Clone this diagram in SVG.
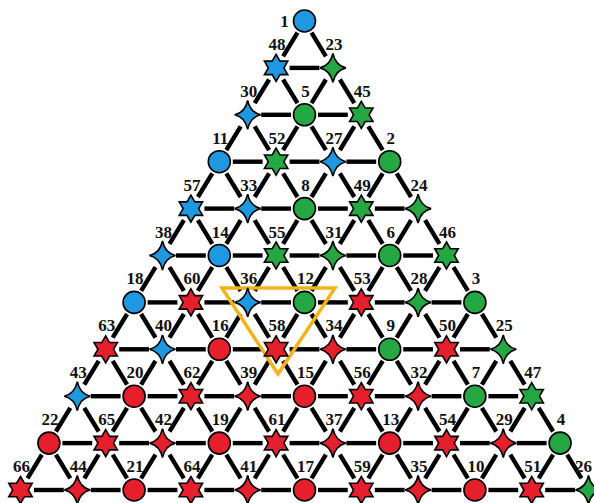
<svg xmlns="http://www.w3.org/2000/svg" xmlns:xlink="http://www.w3.org/1999/xlink" width="594" height="503" viewBox="0 0 594 503">
<style>
.edge{stroke:#000;stroke-width:4.4;stroke-linecap:butt}
.b{fill:#1E98E0;stroke:#000;stroke-width:1.6}
.g{fill:#25A843;stroke:#000;stroke-width:1.6}
.r{fill:#E51F2B;stroke:#000;stroke-width:1.6}
text{font-family:"Liberation Serif","Times New Roman",serif;font-weight:bold;font-size:17px;fill:#111;text-anchor:middle}
</style>
<defs>
<line id="h" class="edge" x1="13.5" y1="0" x2="43.3" y2="0"/>
<line id="dl" class="edge" x1="-7" y1="11.6" x2="-21.4" y2="35.3"/>
<line id="dr" class="edge" x1="7" y1="11.6" x2="21.4" y2="35.3"/>
<circle id="c" r="11"/>
<path id="x" d="M0,-13.5 L3.9,-6.75 L11.69,-6.75 L7.8,0 L11.69,6.75 L3.9,6.75 L0,13.5 L-3.9,6.75 L-11.69,6.75 L-7.8,0 L-11.69,-6.75 L-3.9,-6.75 Z"/>
<path id="s" d="M0,-14.5 Q2.5,-2.5 13,0 Q2.5,2.5 0,14.5 Q-2.5,2.5 -13,0 Q-2.5,-2.5 0,-14.5 Z"/>
</defs>
<rect width="594" height="503" fill="#fff"/>
<g id="connectors">
<g transform="translate(0,21)"><use href="#dl" x="304.5"/><use href="#dr" x="304.5"/></g>
<g transform="translate(0,67.9)"><use href="#h" x="276.1"/><use href="#dl" x="276.1"/><use href="#dr" x="276.1"/><use href="#dl" x="332.9"/><use href="#dr" x="332.9"/></g>
<g transform="translate(0,114.8)"><use href="#h" x="247.7"/><use href="#h" x="304.5"/><use href="#dl" x="247.7"/><use href="#dr" x="247.7"/><use href="#dl" x="304.5"/><use href="#dr" x="304.5"/><use href="#dl" x="361.3"/><use href="#dr" x="361.3"/></g>
<g transform="translate(0,161.7)"><use href="#h" x="219.3"/><use href="#h" x="276.1"/><use href="#h" x="332.9"/><use href="#dl" x="219.3"/><use href="#dr" x="219.3"/><use href="#dl" x="276.1"/><use href="#dr" x="276.1"/><use href="#dl" x="332.9"/><use href="#dr" x="332.9"/><use href="#dl" x="389.7"/><use href="#dr" x="389.7"/></g>
<g transform="translate(0,208.6)"><use href="#h" x="190.9"/><use href="#h" x="247.7"/><use href="#h" x="304.5"/><use href="#h" x="361.3"/><use href="#dl" x="190.9"/><use href="#dr" x="190.9"/><use href="#dl" x="247.7"/><use href="#dr" x="247.7"/><use href="#dl" x="304.5"/><use href="#dr" x="304.5"/><use href="#dl" x="361.3"/><use href="#dr" x="361.3"/><use href="#dl" x="418.1"/><use href="#dr" x="418.1"/></g>
<g transform="translate(0,255.5)"><use href="#h" x="162.5"/><use href="#h" x="219.3"/><use href="#h" x="276.1"/><use href="#h" x="332.9"/><use href="#h" x="389.7"/><use href="#dl" x="162.5"/><use href="#dr" x="162.5"/><use href="#dl" x="219.3"/><use href="#dr" x="219.3"/><use href="#dl" x="276.1"/><use href="#dr" x="276.1"/><use href="#dl" x="332.9"/><use href="#dr" x="332.9"/><use href="#dl" x="389.7"/><use href="#dr" x="389.7"/><use href="#dl" x="446.5"/><use href="#dr" x="446.5"/></g>
<g transform="translate(0,302.4)"><use href="#h" x="134.1"/><use href="#h" x="190.9"/><use href="#h" x="247.7"/><use href="#h" x="304.5"/><use href="#h" x="361.3"/><use href="#h" x="418.1"/><use href="#dl" x="134.1"/><use href="#dr" x="134.1"/><use href="#dl" x="190.9"/><use href="#dr" x="190.9"/><use href="#dl" x="247.7"/><use href="#dr" x="247.7"/><use href="#dl" x="304.5"/><use href="#dr" x="304.5"/><use href="#dl" x="361.3"/><use href="#dr" x="361.3"/><use href="#dl" x="418.1"/><use href="#dr" x="418.1"/><use href="#dl" x="474.9"/><use href="#dr" x="474.9"/></g>
<g transform="translate(0,349.3)"><use href="#h" x="105.7"/><use href="#h" x="162.5"/><use href="#h" x="219.3"/><use href="#h" x="276.1"/><use href="#h" x="332.9"/><use href="#h" x="389.7"/><use href="#h" x="446.5"/><use href="#dl" x="105.7"/><use href="#dr" x="105.7"/><use href="#dl" x="162.5"/><use href="#dr" x="162.5"/><use href="#dl" x="219.3"/><use href="#dr" x="219.3"/><use href="#dl" x="276.1"/><use href="#dr" x="276.1"/><use href="#dl" x="332.9"/><use href="#dr" x="332.9"/><use href="#dl" x="389.7"/><use href="#dr" x="389.7"/><use href="#dl" x="446.5"/><use href="#dr" x="446.5"/><use href="#dl" x="503.3"/><use href="#dr" x="503.3"/></g>
<g transform="translate(0,396.2)"><use href="#h" x="77.3"/><use href="#h" x="134.1"/><use href="#h" x="190.9"/><use href="#h" x="247.7"/><use href="#h" x="304.5"/><use href="#h" x="361.3"/><use href="#h" x="418.1"/><use href="#h" x="474.9"/><use href="#dl" x="77.3"/><use href="#dr" x="77.3"/><use href="#dl" x="134.1"/><use href="#dr" x="134.1"/><use href="#dl" x="190.9"/><use href="#dr" x="190.9"/><use href="#dl" x="247.7"/><use href="#dr" x="247.7"/><use href="#dl" x="304.5"/><use href="#dr" x="304.5"/><use href="#dl" x="361.3"/><use href="#dr" x="361.3"/><use href="#dl" x="418.1"/><use href="#dr" x="418.1"/><use href="#dl" x="474.9"/><use href="#dr" x="474.9"/><use href="#dl" x="531.7"/><use href="#dr" x="531.7"/></g>
<g transform="translate(0,443.1)"><use href="#h" x="48.9"/><use href="#h" x="105.7"/><use href="#h" x="162.5"/><use href="#h" x="219.3"/><use href="#h" x="276.1"/><use href="#h" x="332.9"/><use href="#h" x="389.7"/><use href="#h" x="446.5"/><use href="#h" x="503.3"/><use href="#dl" x="48.9"/><use href="#dr" x="48.9"/><use href="#dl" x="105.7"/><use href="#dr" x="105.7"/><use href="#dl" x="162.5"/><use href="#dr" x="162.5"/><use href="#dl" x="219.3"/><use href="#dr" x="219.3"/><use href="#dl" x="276.1"/><use href="#dr" x="276.1"/><use href="#dl" x="332.9"/><use href="#dr" x="332.9"/><use href="#dl" x="389.7"/><use href="#dr" x="389.7"/><use href="#dl" x="446.5"/><use href="#dr" x="446.5"/><use href="#dl" x="503.3"/><use href="#dr" x="503.3"/><use href="#dl" x="560.1"/><use href="#dr" x="560.1"/></g>
<g transform="translate(0,490)"><use href="#h" x="20.5"/><use href="#h" x="77.3"/><use href="#h" x="134.1"/><use href="#h" x="190.9"/><use href="#h" x="247.7"/><use href="#h" x="304.5"/><use href="#h" x="361.3"/><use href="#h" x="418.1"/><use href="#h" x="474.9"/><use href="#h" x="531.7"/></g>
</g>
<polygon id="highlight" points="222,288 335,288 278,374" fill="none" stroke="#F2B31B" stroke-width="3.5"/>
<g id="nodes">
<g id="n1" transform="translate(304.5,21)"><use href="#c" class="b"/><text x="-20" y="6">1</text></g>
<g id="n48" transform="translate(276.1,67.9)"><use href="#x" class="b"/><text x="1" y="-18">48</text></g>
<g id="n23" transform="translate(332.9,67.9)"><use href="#s" class="g"/><text x="1" y="-18">23</text></g>
<g id="n30" transform="translate(247.7,114.8)"><use href="#s" class="b"/><text x="1" y="-18">30</text></g>
<g id="n5" transform="translate(304.5,114.8)"><use href="#c" class="g"/><text x="1" y="-18">5</text></g>
<g id="n45" transform="translate(361.3,114.8)"><use href="#x" class="g"/><text x="1" y="-18">45</text></g>
<g id="n11" transform="translate(219.3,161.7)"><use href="#c" class="b"/><text x="1" y="-18">11</text></g>
<g id="n52" transform="translate(276.1,161.7)"><use href="#x" class="g"/><text x="1" y="-18">52</text></g>
<g id="n27" transform="translate(332.9,161.7)"><use href="#s" class="b"/><text x="1" y="-18">27</text></g>
<g id="n2" transform="translate(389.7,161.7)"><use href="#c" class="g"/><text x="1" y="-18">2</text></g>
<g id="n57" transform="translate(190.9,208.6)"><use href="#x" class="b"/><text x="1" y="-18">57</text></g>
<g id="n33" transform="translate(247.7,208.6)"><use href="#s" class="b"/><text x="1" y="-18">33</text></g>
<g id="n8" transform="translate(304.5,208.6)"><use href="#c" class="g"/><text x="1" y="-18">8</text></g>
<g id="n49" transform="translate(361.3,208.6)"><use href="#x" class="g"/><text x="1" y="-18">49</text></g>
<g id="n24" transform="translate(418.1,208.6)"><use href="#s" class="g"/><text x="1" y="-18">24</text></g>
<g id="n38" transform="translate(162.5,255.5)"><use href="#s" class="b"/><text x="1" y="-18">38</text></g>
<g id="n14" transform="translate(219.3,255.5)"><use href="#c" class="b"/><text x="1" y="-18">14</text></g>
<g id="n55" transform="translate(276.1,255.5)"><use href="#x" class="g"/><text x="1" y="-18">55</text></g>
<g id="n31" transform="translate(332.9,255.5)"><use href="#s" class="g"/><text x="1" y="-18">31</text></g>
<g id="n6" transform="translate(389.7,255.5)"><use href="#c" class="g"/><text x="1" y="-18">6</text></g>
<g id="n46" transform="translate(446.5,255.5)"><use href="#x" class="g"/><text x="1" y="-18">46</text></g>
<g id="n18" transform="translate(134.1,302.4)"><use href="#c" class="b"/><text x="1" y="-18">18</text></g>
<g id="n60" transform="translate(190.9,302.4)"><use href="#x" class="r"/><text x="1" y="-18">60</text></g>
<g id="n36" transform="translate(247.7,302.4)"><use href="#s" class="b"/><text x="1" y="-18">36</text></g>
<g id="n12" transform="translate(304.5,302.4)"><use href="#c" class="g"/><text x="1" y="-18">12</text></g>
<g id="n53" transform="translate(361.3,302.4)"><use href="#x" class="r"/><text x="1" y="-18">53</text></g>
<g id="n28" transform="translate(418.1,302.4)"><use href="#s" class="g"/><text x="1" y="-18">28</text></g>
<g id="n3" transform="translate(474.9,302.4)"><use href="#c" class="g"/><text x="1" y="-18">3</text></g>
<g id="n63" transform="translate(105.7,349.3)"><use href="#x" class="r"/><text x="1" y="-18">63</text></g>
<g id="n40" transform="translate(162.5,349.3)"><use href="#s" class="b"/><text x="1" y="-18">40</text></g>
<g id="n16" transform="translate(219.3,349.3)"><use href="#c" class="r"/><text x="1" y="-18">16</text></g>
<g id="n58" transform="translate(276.1,349.3)"><use href="#x" class="r"/><text x="1" y="-18">58</text></g>
<g id="n34" transform="translate(332.9,349.3)"><use href="#s" class="r"/><text x="1" y="-18">34</text></g>
<g id="n9" transform="translate(389.7,349.3)"><use href="#c" class="g"/><text x="1" y="-18">9</text></g>
<g id="n50" transform="translate(446.5,349.3)"><use href="#x" class="r"/><text x="1" y="-18">50</text></g>
<g id="n25" transform="translate(503.3,349.3)"><use href="#s" class="g"/><text x="1" y="-18">25</text></g>
<g id="n43" transform="translate(77.3,396.2)"><use href="#s" class="b"/><text x="1" y="-18">43</text></g>
<g id="n20" transform="translate(134.1,396.2)"><use href="#c" class="r"/><text x="1" y="-18">20</text></g>
<g id="n62" transform="translate(190.9,396.2)"><use href="#x" class="r"/><text x="1" y="-18">62</text></g>
<g id="n39" transform="translate(247.7,396.2)"><use href="#s" class="r"/><text x="1" y="-18">39</text></g>
<g id="n15" transform="translate(304.5,396.2)"><use href="#c" class="r"/><text x="1" y="-18">15</text></g>
<g id="n56" transform="translate(361.3,396.2)"><use href="#x" class="r"/><text x="1" y="-18">56</text></g>
<g id="n32" transform="translate(418.1,396.2)"><use href="#s" class="r"/><text x="1" y="-18">32</text></g>
<g id="n7" transform="translate(474.9,396.2)"><use href="#c" class="g"/><text x="1" y="-18">7</text></g>
<g id="n47" transform="translate(531.7,396.2)"><use href="#x" class="g"/><text x="1" y="-18">47</text></g>
<g id="n22" transform="translate(48.9,443.1)"><use href="#c" class="r"/><text x="1" y="-18">22</text></g>
<g id="n65" transform="translate(105.7,443.1)"><use href="#x" class="r"/><text x="1" y="-18">65</text></g>
<g id="n42" transform="translate(162.5,443.1)"><use href="#s" class="r"/><text x="1" y="-18">42</text></g>
<g id="n19" transform="translate(219.3,443.1)"><use href="#c" class="r"/><text x="1" y="-18">19</text></g>
<g id="n61" transform="translate(276.1,443.1)"><use href="#x" class="r"/><text x="1" y="-18">61</text></g>
<g id="n37" transform="translate(332.9,443.1)"><use href="#s" class="r"/><text x="1" y="-18">37</text></g>
<g id="n13" transform="translate(389.7,443.1)"><use href="#c" class="r"/><text x="1" y="-18">13</text></g>
<g id="n54" transform="translate(446.5,443.1)"><use href="#x" class="r"/><text x="1" y="-18">54</text></g>
<g id="n29" transform="translate(503.3,443.1)"><use href="#s" class="r"/><text x="1" y="-18">29</text></g>
<g id="n4" transform="translate(560.1,443.1)"><use href="#c" class="g"/><text x="1" y="-18">4</text></g>
<g id="n66" transform="translate(20.5,490)"><use href="#x" class="r"/><text x="1" y="-18">66</text></g>
<g id="n44" transform="translate(77.3,490)"><use href="#s" class="r"/><text x="1" y="-18">44</text></g>
<g id="n21" transform="translate(134.1,490)"><use href="#c" class="r"/><text x="1" y="-18">21</text></g>
<g id="n64" transform="translate(190.9,490)"><use href="#x" class="r"/><text x="1" y="-18">64</text></g>
<g id="n41" transform="translate(247.7,490)"><use href="#s" class="r"/><text x="1" y="-18">41</text></g>
<g id="n17" transform="translate(304.5,490)"><use href="#c" class="r"/><text x="1" y="-18">17</text></g>
<g id="n59" transform="translate(361.3,490)"><use href="#x" class="r"/><text x="1" y="-18">59</text></g>
<g id="n35" transform="translate(418.1,490)"><use href="#s" class="r"/><text x="1" y="-18">35</text></g>
<g id="n10" transform="translate(474.9,490)"><use href="#c" class="r"/><text x="1" y="-18">10</text></g>
<g id="n51" transform="translate(531.7,490)"><use href="#x" class="r"/><text x="1" y="-18">51</text></g>
<g id="n26" transform="translate(588.5,490)"><use href="#s" class="g"/><text x="-5" y="-18">26</text></g>
</g>
</svg>
